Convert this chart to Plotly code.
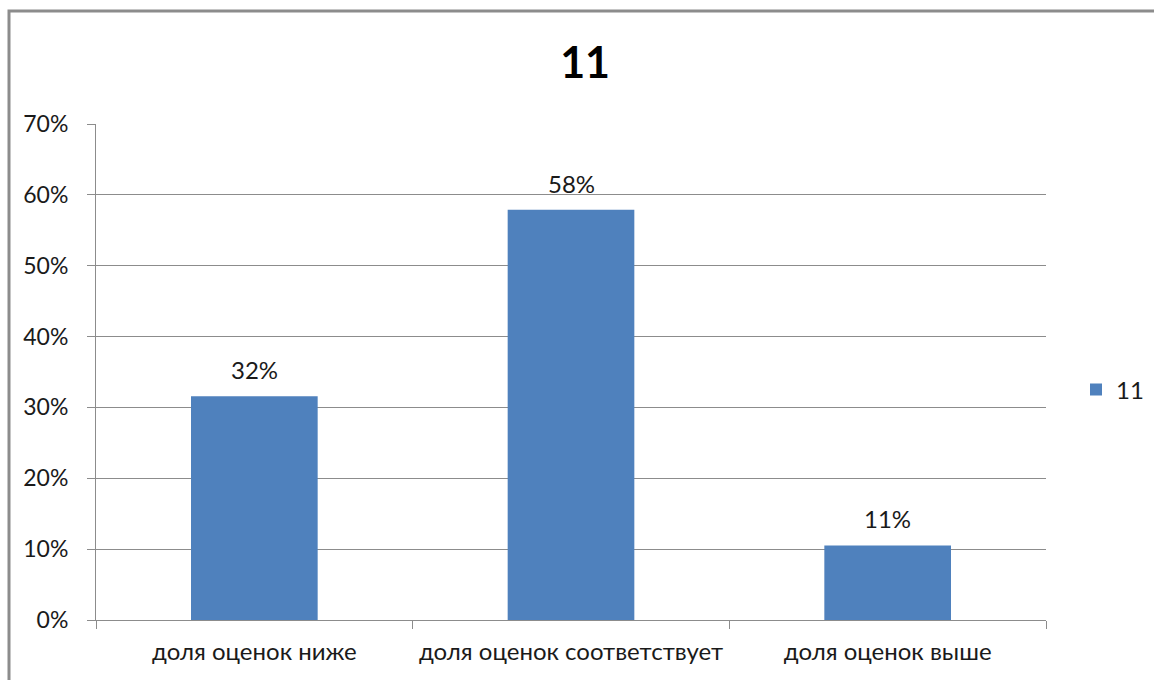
import plotly.graph_objects as go

categories = ["доля оценок ниже", "доля оценок соответствует", "доля оценок выше"]
values = [0.3158, 0.5789, 0.1053]
series_name = "11"
title_text = "11"
y_ticks = [0, 0.1, 0.2, 0.3, 0.4, 0.5, 0.6, 0.7]

FONT = "Lato, 'Open Sans', Arial, sans-serif"
BAR = "#4F81BD"
GRID = "#8C8C8C"
TXT = "#1a1a1a"

fig = go.Figure()
fig.add_trace(go.Bar(
    x=categories, y=values, name=series_name,
    marker=dict(color=BAR, line=dict(width=0)),
    showlegend=True,
))

for c, v in zip(categories, values):
    fig.add_annotation(x=c, y=v, text=f"{round(v*100)}%", showarrow=False,
                       yanchor="bottom", yshift=10,
                       font=dict(family=FONT, size=24, color=TXT))

fig.update_layout(
    width=1154, height=680,
    margin=dict(l=96, r=108, t=124, b=60, autoexpand=False),
    paper_bgcolor="white", plot_bgcolor="white",
    bargap=0.6,
    title=dict(text=f"<b>{title_text}</b>", x=0.507, xanchor="center",
               y=1 - 63/680, yanchor="middle",
               font=dict(family=FONT, size=43, color="#000000")),
    font=dict(family=FONT, size=24, color=TXT),
    legend=dict(x=(1076-96)/950, y=(620-390)/496, xanchor="left", yanchor="middle",
                font=dict(family=FONT, size=24, color=TXT),
                bgcolor="rgba(0,0,0,0)", itemwidth=30),
    xaxis=dict(type="category", showline=True, linecolor=GRID, linewidth=1,
               ticks="outside", tickson="boundaries", ticklen=8, tickcolor=GRID,
               showgrid=False, ticklabelstandoff=10,
               tickfont=dict(family=FONT, size=24, color=TXT)),
    yaxis=dict(range=[0, 0.7], tickvals=y_ticks, tickformat=".0%",
               showline=True, linecolor=GRID, linewidth=1,
               ticks="outside", ticklen=8, tickcolor=GRID,
               showgrid=True, gridcolor=GRID, gridwidth=1,
               zeroline=False, ticklabelstandoff=14,
               tickfont=dict(family=FONT, size=23, color=TXT)),
    shapes=[dict(type="rect", xref="paper", yref="paper",
                 x0=(9-96)/950, x1=1.3, y0=-0.3, y1=(620-11)/496,
                 line=dict(color="#8C8C8C", width=3), fillcolor="rgba(0,0,0,0)",
                 layer="below")],
)

fig.write_html("out.html", config={"displayModeBar": False},
               post_script="document.body.style.margin='0';document.body.style.overflow='hidden';")
